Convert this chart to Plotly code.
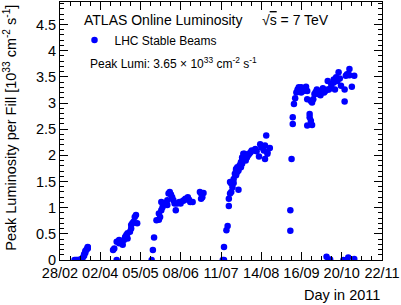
import plotly.graph_objects as go
import pandas as pd

# ---- data ----
fill_dates = [
    "2011-03-12", "2011-03-13", "2011-03-14", "2011-03-15", "2011-03-16", "2011-03-17",
    "2011-03-18", "2011-03-19", "2011-03-20", "2011-03-20", "2011-03-21", "2011-03-21",
    "2011-03-22", "2011-03-23", "2011-03-23", "2011-03-23",
    "2011-04-13", "2011-04-14", "2011-04-16", "2011-04-16", "2011-04-18", "2011-04-18",
    "2011-04-20", "2011-04-21", "2011-04-22", "2011-04-23", "2011-04-24", "2011-04-25",
    "2011-04-25", "2011-04-27", "2011-04-28", "2011-04-28", "2011-04-29", "2011-04-30",
    "2011-05-01", "2011-05-02", "2011-05-03",
    "2011-05-15", "2011-05-16", "2011-05-17", "2011-05-19", "2011-05-21", "2011-05-21",
    "2011-05-22", "2011-05-23", "2011-05-23", "2011-05-24", "2011-05-25", "2011-05-26",
    "2011-05-28", "2011-05-28", "2011-05-29", "2011-05-30", "2011-05-31", "2011-06-01",
    "2011-06-02", "2011-06-03", "2011-06-04", "2011-06-05", "2011-06-07", "2011-06-08",
    "2011-06-10", "2011-06-11", "2011-06-12", "2011-06-14", "2011-06-15", "2011-06-16",
    "2011-06-18", "2011-06-24", "2011-06-25", "2011-06-25", "2011-06-26", "2011-06-27",
    "2011-07-13", "2011-07-14", "2011-07-14", "2011-07-16", "2011-07-17", "2011-07-18",
    "2011-07-18", "2011-07-19", "2011-07-19", "2011-07-20", "2011-07-20", "2011-07-21",
    "2011-07-22", "2011-07-22", "2011-07-23", "2011-07-24", "2011-07-24", "2011-07-24",
    "2011-07-25", "2011-07-25", "2011-07-26", "2011-07-26", "2011-07-27", "2011-07-28",
    "2011-07-28", "2011-07-29", "2011-07-29", "2011-07-29", "2011-07-30", "2011-07-31",
    "2011-07-31", "2011-08-01", "2011-08-01", "2011-08-02", "2011-08-03", "2011-08-04",
    "2011-08-05", "2011-08-06", "2011-08-08", "2011-08-09", "2011-08-10", "2011-08-12",
    "2011-08-13", "2011-08-14", "2011-08-16", "2011-08-17", "2011-08-17", "2011-08-18",
    "2011-08-19", "2011-08-19", "2011-08-21",
    "2011-09-07", "2011-09-07", "2011-09-08", "2011-09-09", "2011-09-09", "2011-09-10",
    "2011-09-11", "2011-09-12", "2011-09-13", "2011-09-14", "2011-09-16", "2011-09-16",
    "2011-09-18", "2011-09-20", "2011-09-21", "2011-09-21", "2011-09-21", "2011-09-23",
    "2011-09-23", "2011-09-24", "2011-09-25", "2011-09-24", "2011-09-25", "2011-09-26",
    "2011-09-27", "2011-09-28", "2011-09-29", "2011-09-30", "2011-10-01", "2011-10-02",
    "2011-10-03", "2011-10-04", "2011-10-05", "2011-10-06", "2011-10-07", "2011-10-08",
    "2011-10-08", "2011-10-09", "2011-10-10", "2011-10-11", "2011-10-11", "2011-10-13",
    "2011-10-13", "2011-10-14", "2011-10-15", "2011-10-16", "2011-10-17", "2011-10-18",
    "2011-10-19", "2011-10-21", "2011-10-22", "2011-10-22", "2011-10-23", "2011-10-24",
    "2011-10-25", "2011-10-25", "2011-10-26", "2011-10-26", "2011-10-28", "2011-10-30",
    "2011-10-30",
]
peak_lumi = [
    0.00, 0.00, 0.00, 0.00, 0.00, 0.01,
    0.02, 0.05, 0.08, 0.11, 0.14, 0.17,
    0.20, 0.22, 0.24, 0.25,
    0.19, 0.22, 0.00, 0.35, 0.32, 0.38,
    0.32, 0.29, 0.38, 0.44, 0.48, 0.41,
    0.51, 0.54, 0.60, 0.67, 0.70, 0.73,
    0.82, 0.86, 0.70,
    0.00, 0.19, 0.43, 0.76, 0.77, 0.89,
    0.82, 0.95, 1.11, 1.01, 1.09, 1.08,
    1.05, 1.14, 1.27, 1.30, 1.25, 1.20,
    1.14, 1.08, 0.95, 1.08, 1.11, 1.08,
    1.13, 1.14, 1.17, 1.20, 1.15, 1.11,
    1.11, 1.30, 1.17, 1.27, 1.20, 1.28,
    0.00, 0.00, 0.25, 0.57, 0.65, 1.03,
    1.17, 1.27, 1.49, 1.30, 1.46, 1.39,
    1.47, 1.55, 1.65, 1.62, 1.71, 1.74,
    1.68, 1.77, 1.34, 1.71, 1.81, 1.77,
    1.87, 1.84, 1.91, 1.96, 2.03, 1.98,
    2.03, 1.90, 1.93, 1.96, 2.00, 2.03,
    2.06, 2.09, 2.09, 2.12, 2.08, 1.98,
    2.21, 2.15, 2.09, 1.93, 2.19, 2.38,
    2.03, 2.06, 2.14,
    0.56, 0.95, 1.93, 2.60, 2.73, 2.98,
    3.09, 3.20, 3.26, 3.30, 3.30, 3.20,
    3.23, 3.31, 3.23, 3.07, 2.57, 2.79,
    2.73, 2.66, 2.58, 3.04, 3.01, 3.07,
    3.17, 3.21, 3.26, 3.17, 3.20, 3.15,
    3.23, 3.28, 3.20, 3.23, 0.06, 3.26,
    3.42, 3.26, 0.01, 3.30, 3.36, 3.39,
    3.45, 3.26, 3.49, 3.42, 3.59, 3.47,
    3.33, 0.00, 3.03, 3.26, 3.52, 3.55,
    3.55, 0.05, 3.65, 3.53, 3.31, 3.52,
    0.02,
]

x_start = "2011-02-28"
x_end = "2011-11-22"
x_tick_labels = ["28/02", "02/04", "05/05", "08/06", "11/07", "14/08", "16/09", "20/10", "22/11"]
y_max = 4.93

FONT = "Liberation Sans, Arial, Helvetica, sans-serif"

major = pd.date_range(x_start, x_end, periods=len(x_tick_labels))
minor = pd.date_range(x_start, x_end, periods=(len(x_tick_labels) - 1) * 4 + 1)
major_vals = [t.strftime("%Y-%m-%d %H:%M:%S") for t in major]
minor_vals = [t.strftime("%Y-%m-%d %H:%M:%S") for t in minor]
# tiny padding so the end ticks are kept inside the axis range
x_range = [(pd.Timestamp(x_start) - pd.Timedelta(minutes=5)).strftime("%Y-%m-%d %H:%M:%S"),
           (pd.Timestamp(x_end) + pd.Timedelta(minutes=5)).strftime("%Y-%m-%d %H:%M:%S")]

fig = go.Figure()
fig.add_trace(go.Scatter(
    x=fill_dates, y=peak_lumi, mode="markers",
    marker=dict(color="#0000ff", size=6.5, line=dict(width=0)),
    name="LHC Stable Beams", showlegend=True,
))

fig.update_layout(
    width=401, height=305,
    margin=dict(l=60, r=17, t=1, b=45),
    paper_bgcolor="white", plot_bgcolor="white",
    font=dict(family=FONT, color="black", size=14.5),
    showlegend=True,
    legend=dict(x=0.045, y=0.853, xanchor="left", yanchor="middle",
                bgcolor="rgba(0,0,0,0)", font=dict(size=12, family=FONT),
                itemwidth=30, borderwidth=0),
    xaxis=dict(
        type="date", range=x_range,
        tickmode="array", tickvals=major_vals, ticktext=x_tick_labels,
        ticks="inside", ticklen=8, tickcolor="black", tickwidth=1,
        showline=True, linecolor="black", linewidth=1, mirror="allticks",
        showgrid=False, zeroline=False, ticklabeloverflow="allow",
        tickfont=dict(size=14.5, family=FONT),
        minor=dict(tickmode="array", tickvals=minor_vals, ticks="inside",
                   ticklen=4, tickcolor="black", showgrid=False),
    ),
    yaxis=dict(
        range=[0, y_max], dtick=0.5, tick0=0,
        ticks="inside", ticklen=8, tickcolor="black", tickwidth=1,
        showline=True, linecolor="black", linewidth=1, mirror="allticks",
        showgrid=False, zeroline=False,
        tickfont=dict(size=14.5, family=FONT),
        minor=dict(dtick=0.1, ticks="inside", ticklen=4, tickcolor="black", showgrid=False),
    ),
)

peak = max(peak_lumi)
fig.add_annotation(xref="paper", yref="paper", x=-0.156, y=0.5116, textangle=-90,
                   xanchor="center", yanchor="middle", showarrow=False,
                   text="Peak Luminosity per Fill [10<sup>33</sup> cm<sup>-2</sup> s<sup>-1</sup>]",
                   font=dict(size=14.5))
fig.add_annotation(xref="paper", yref="paper", x=1.0, y=-0.135, xanchor="right",
                   yanchor="middle", showarrow=False, text="Day in 2011", font=dict(size=14.5))
fig.add_annotation(xref="paper", yref="paper", x=0.0679, y=0.9305, xanchor="left",
                   yanchor="middle", showarrow=False, text="ATLAS Online Luminosity",
                   font=dict(size=14))
fig.add_annotation(xref="paper", yref="paper", x=0.6204, y=0.9305, xanchor="left",
                   yanchor="middle", showarrow=False, text="√<span style='text-decoration:overline'>s</span> = 7 TeV",
                   font=dict(size=14))
fig.add_annotation(xref="paper", yref="paper", x=0.0864, y=0.7645, xanchor="left",
                   yanchor="middle", showarrow=False,
                   text=f"Peak Lumi: {peak:.2f} × 10<sup>33</sup> cm<sup>-2</sup> s<sup>-1</sup>",
                   font=dict(size=12))

fig.write_html("out.html", config={"displayModeBar": False},
               post_script="document.body.style.margin='0';document.body.style.overflow='hidden';")
